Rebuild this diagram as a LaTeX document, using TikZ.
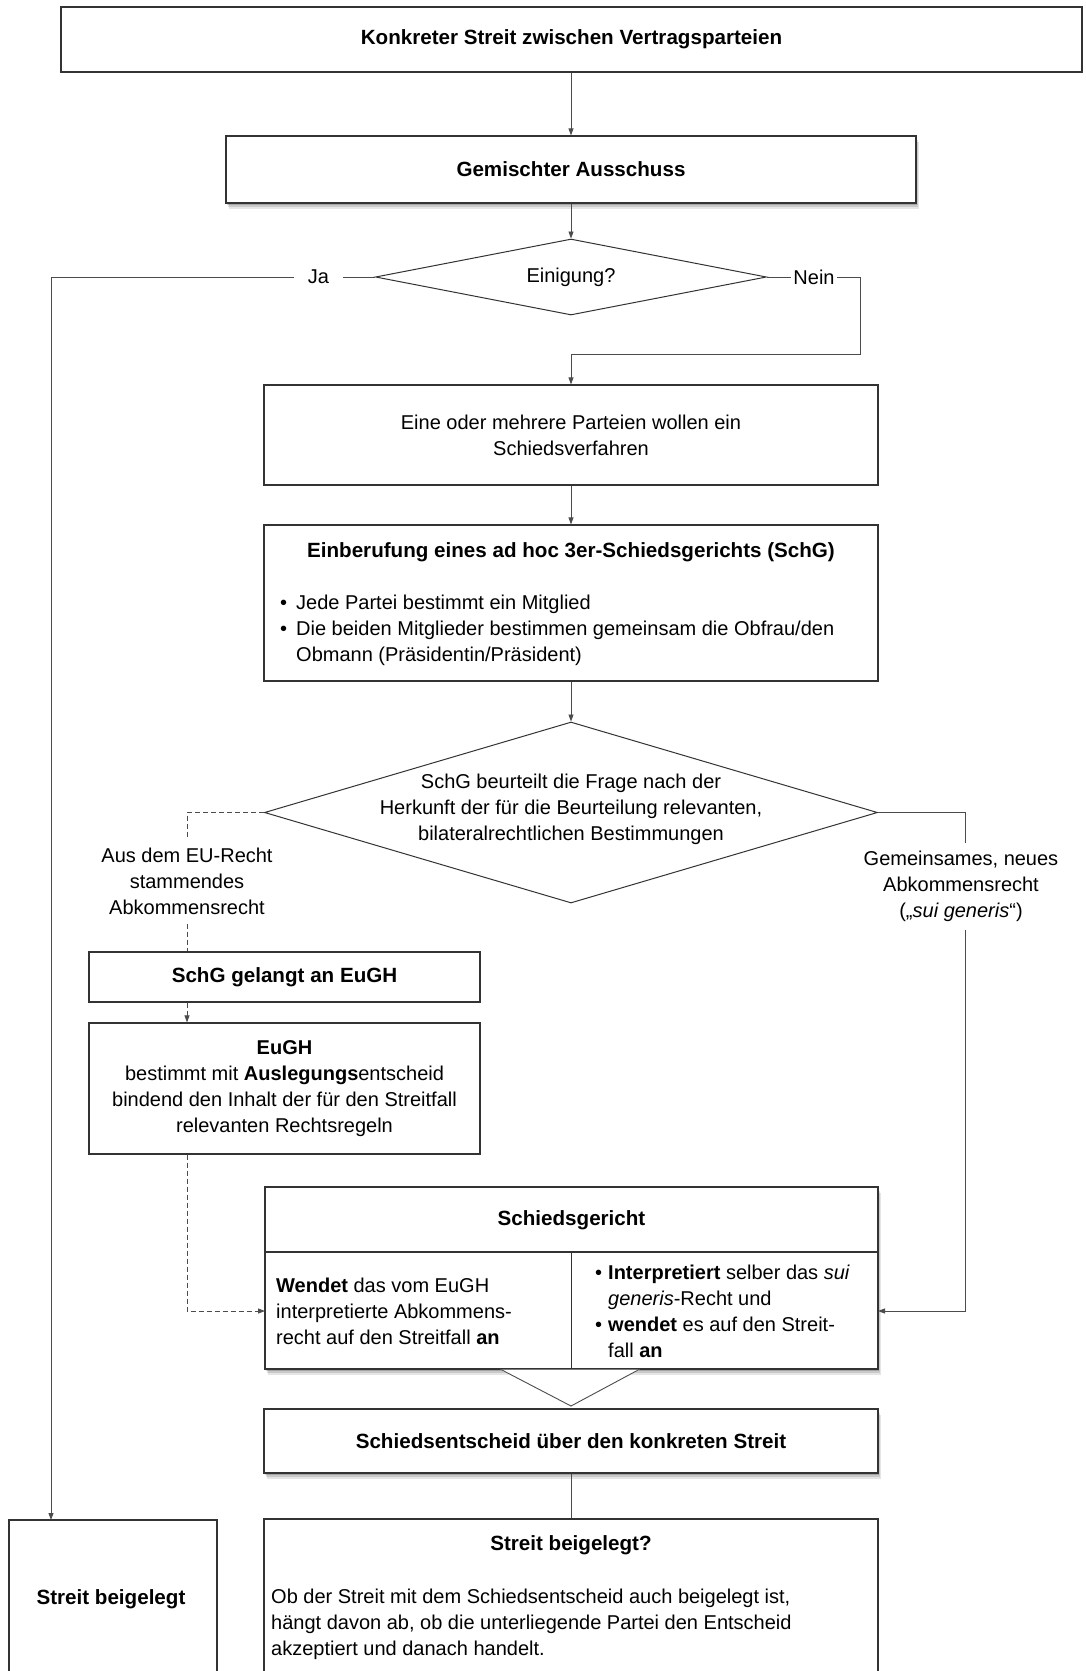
\documentclass[tikz,border=0pt]{standalone}
\usepackage{fontspec}
\setmainfont{Liberation Sans}
\usetikzlibrary{arrows.meta,shapes.geometric,shadows}
\begin{document}
\begin{tikzpicture}[x=1pt,y=-1pt,
  every node/.style={font=\fontsize{20}{26}\selectfont, text=black},
  ttlf/.style={font=\fontsize{20.6}{26}\selectfont\bfseries},
  box/.style={draw=black!80, line width=1.2pt, fill=white, inner sep=0pt, align=center},
  shbox/.style={box,
    drop shadow={shadow xshift=3pt,shadow yshift=-6pt,opacity=0.10,fill=black},
    drop shadow={shadow xshift=2pt,shadow yshift=-4pt,opacity=0.12,fill=black},
    drop shadow={shadow xshift=1pt,shadow yshift=-2pt,opacity=0.18,fill=black}},
  dia/.style={diamond, draw=black!80, line width=1pt, inner sep=0pt},
  boxline/.style={draw=black!80, line width=1.2pt},
  conn/.style={draw=black!70, line width=0.9pt},
  arr/.style={conn, -{Triangle[length=7pt,width=5pt]}},
  dsh/.style={conn, dash pattern=on 5pt off 3pt},
  txt/.style={inner sep=0pt, align=center},
  lefttxt/.style={inner sep=0pt, anchor=west, align=left},
]
\fill[white] (0,0) rectangle (1085,1671);
\useasboundingbox (0,0) rectangle (1085,1671);

% boxes
\node[box, ttlf, minimum width=1021, minimum height=65] (top) at (571.5,39.5) {Konkreter Streit zwischen Vertragsparteien};
\node[shbox, ttlf, minimum width=690, minimum height=67] (gem) at (571,169.5) {Gemischter Ausschuss};
\node[dia, minimum width=391, minimum height=76] (d1) at (571,277) {};
\node[txt] (d1t) at (571,277) {Einigung?};
\node[inner sep=0pt, inner xsep=14pt] (ja) at (318.5,277) {Ja};
\node[inner sep=0pt, inner xsep=2.5pt] (nein) at (814,277) {Nein};

\node[box, minimum width=614, minimum height=100] (eine) at (571,435) {Eine oder mehrere Parteien wollen ein\\Schiedsverfahren};

\node[box, minimum width=614, minimum height=156] (einb) at (571,603) {};
\node[ttlf, inner sep=0pt] (einbt) at (571,552) {Einberufung eines ad hoc 3er-Schiedsgerichts (SchG)};
\node[lefttxt] (einbl) at (280,630.5) {\makebox[16pt][l]{•}Jede Partei bestimmt ein Mitglied\\\makebox[16pt][l]{•}Die beiden Mitglieder bestimmen gemeinsam die Obfrau/den\\\hspace*{16pt}Obmann (Präsidentin/Präsident)};

\node[dia, minimum width=613, minimum height=181] (d2) at (571,812.5) {};
\node[txt] (d2t) at (571,809) {SchG beurteilt die Frage nach der\\Herkunft der für die Beurteilung relevanten,\\bilateralrechtlichen Bestimmungen};

\node[txt, inner ysep=9pt] (eulab) at (187,881) {Aus dem EU-Recht\\stammendes\\Abkommensrecht};
\node[txt, inner ysep=8pt] (gnlab) at (961,886.5) {Gemeinsames, neues\\Abkommensrecht\\(„\textit{sui generis}“)};

\node[box, ttlf, minimum width=391, minimum height=50] (schg) at (284.5,977) {SchG gelangt an EuGH};
\node[box, minimum width=391, minimum height=131] (eugh) at (284.5,1088.5) {\textbf{EuGH}\\bestimmt mit \textbf{Auslegungs}entscheid\\bindend den Inhalt der für den Streitfall\\relevanten Rechtsregeln};

\node[shbox, minimum width=613, minimum height=182] (sg) at (571.5,1278) {};
\node[ttlf, inner sep=0pt] (sgt) at (571.5,1220) {Schiedsgericht};
\coordinate (sgdl) at (265,1252);
\coordinate (sgdr) at (878,1252);
\coordinate (sgdm) at (571.5,1252);
\draw[boxline] (sgdl) -- (sgdr);
\draw[boxline] (sgdm) -- (sgdm |- sg.south);
\node[lefttxt] (sgl) at (276,1311) {\textbf{Wendet} das vom EuGH\\interpretierte Abkommens-\\recht auf den Streitfall \textbf{an}};
\node[lefttxt] (sgr) at (595,1311) {\makebox[13pt][l]{•}\textbf{Interpretiert} selber das \textit{sui}\\\hspace*{13pt}\textit{generis}-Recht und\\\makebox[13pt][l]{•}\textbf{wendet} es auf den Streit-\\\hspace*{13pt}fall \textbf{an}};

% triangle
\coordinate (t1) at (500,1369);
\coordinate (t2) at (571,1406);
\coordinate (t3) at (640,1369);
\fill[white] ([yshift=-0.7pt]t1) -- (t2) -- ([yshift=-0.7pt]t3) -- cycle;
\draw[conn] (t1) -- (t2) -- (t3);

\node[shbox, ttlf, minimum width=614, minimum height=64] (se) at (571,1441) {Schiedsentscheid über den konkreten Streit};

\node[box, minimum width=614, minimum height=181] (sb) at (571,1609.5) {};
\node[ttlf, inner sep=0pt] (sbt) at (571,1545) {Streit beigelegt?};
\node[lefttxt] (sbb) at (271,1624) {Ob der Streit mit dem Schiedsentscheid auch beigelegt ist,\\hängt davon ab, ob die unterliegende Partei den Entscheid\\akzeptiert und danach handelt.};

\node[box, minimum width=208, minimum height=180] (lb) at (113,1610) {};
\node[ttlf, inner sep=0pt] (lbt) at (111,1599) {Streit beigelegt};

% connectors
\draw[arr] (top.south -| gem.north) -- (gem.north);
\draw[arr] (gem.south) -- (d1.north);
\draw[conn] (d1.west) -- (ja.east);
\coordinate (jaend) at (51,1520);
\draw[arr] (ja.west) -| (jaend);
\draw[conn] (d1.east) -- (nein.west);
\coordinate (nc) at (860,354);
\draw[arr] (nein.east) -| (nc) -| (eine.north);
\draw[arr] (eine.south) -- (einb.north);
\draw[arr] (einb.south) -- (d2.north);
\draw[dsh] (d2.west) -| (eulab.north);
\draw[dsh] (eulab.south) -- (eulab.south |- schg.north);
\draw[dsh, arr] (schg.south -| eulab.south) -- (eugh.north -| eulab.south);
\coordinate (sgin) at (265,1311);
\draw[dsh, arr] (eugh.south -| eulab.south) |- (sgin);
\coordinate (rx) at (965,812.5);
\draw[conn] (d2.east) -- (rx) -- (rx |- gnlab.north);
\coordinate (sgin2) at (878,1311);
\draw[arr] (rx |- gnlab.south) |- (sgin2);
\draw[conn] (se.south) -- (sb.north);
\end{tikzpicture}
\end{document}
